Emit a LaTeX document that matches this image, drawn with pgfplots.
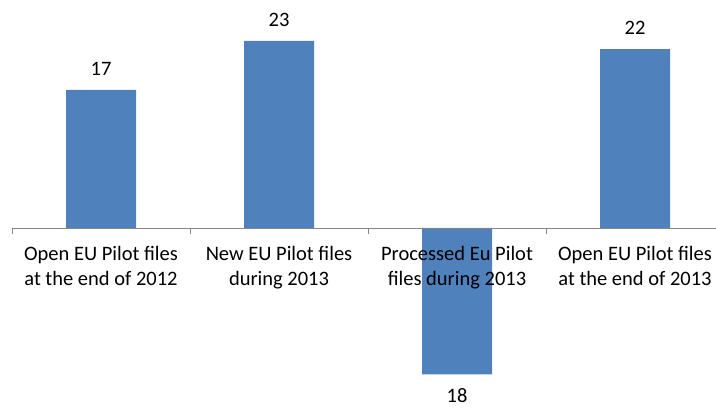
\documentclass[border=0pt]{standalone}
\usepackage{pgfplots}
\pgfplotsset{compat=1.18}
\usepackage{fontspec}
\setmainfont{Carlito}
\definecolor{barblue}{HTML}{4F81BD}
\definecolor{axisgray}{HTML}{868686}
\begin{document}
\begin{tikzpicture}[x=1pt,y=1pt]
\useasboundingbox (-12,0) rectangle (704,408);
\begin{axis}[
 at={(0,0)}, anchor=south west,
 scale only axis, width=704pt, height=408pt,
 xmin=-0.5, xmax=3.455, ymin=-22.14, ymax=28.04,
 axis x line=middle, axis y line=none,
 axis on top,
 x axis line style={-, draw=axisgray, line width=0.8pt},
 xtick={0,1,2,3},
 xticklabels={{Open EU Pilot files\\at the end of 2012},{New EU Pilot files\\during 2013},{Processed Eu Pilot\\files during 2013},{Open EU Pilot files\\at the end of 2013}},
 major tick length=0pt,
 xticklabel style={align=center, font=\fontsize{20.5}{25}\selectfont, text=black, anchor=north, yshift=-15pt},
 ybar, bar width=70pt,
 nodes near coords={\pgfkeys{/pgf/fpu=true}\pgfmathparse{abs(\pgfplotspointmeta)}\pgfmathprintnumber{\pgfmathresult}},
 nodes near coords style={font=\fontsize{20.5}{25}\selectfont, text=black, inner ysep=14pt, inner xsep=0pt, /pgf/number format/assume math mode=true},
 clip=false,
]
\addplot[fill=barblue, draw=none] table[x=x,y=y] {
x y
0 17
1 23
2 -18
3 22
};
\draw[axisgray, line width=0.8pt] (axis cs:-0.5,0) -- ++(0pt,-6pt);
\draw[axisgray, line width=0.8pt] (axis cs:0.5,0) -- ++(0pt,-6pt);
\draw[axisgray, line width=0.8pt] (axis cs:1.5,0) -- ++(0pt,-6pt);
\draw[axisgray, line width=0.8pt] (axis cs:2.5,0) -- ++(0pt,-6pt);
\end{axis}
\end{tikzpicture}
\end{document}
